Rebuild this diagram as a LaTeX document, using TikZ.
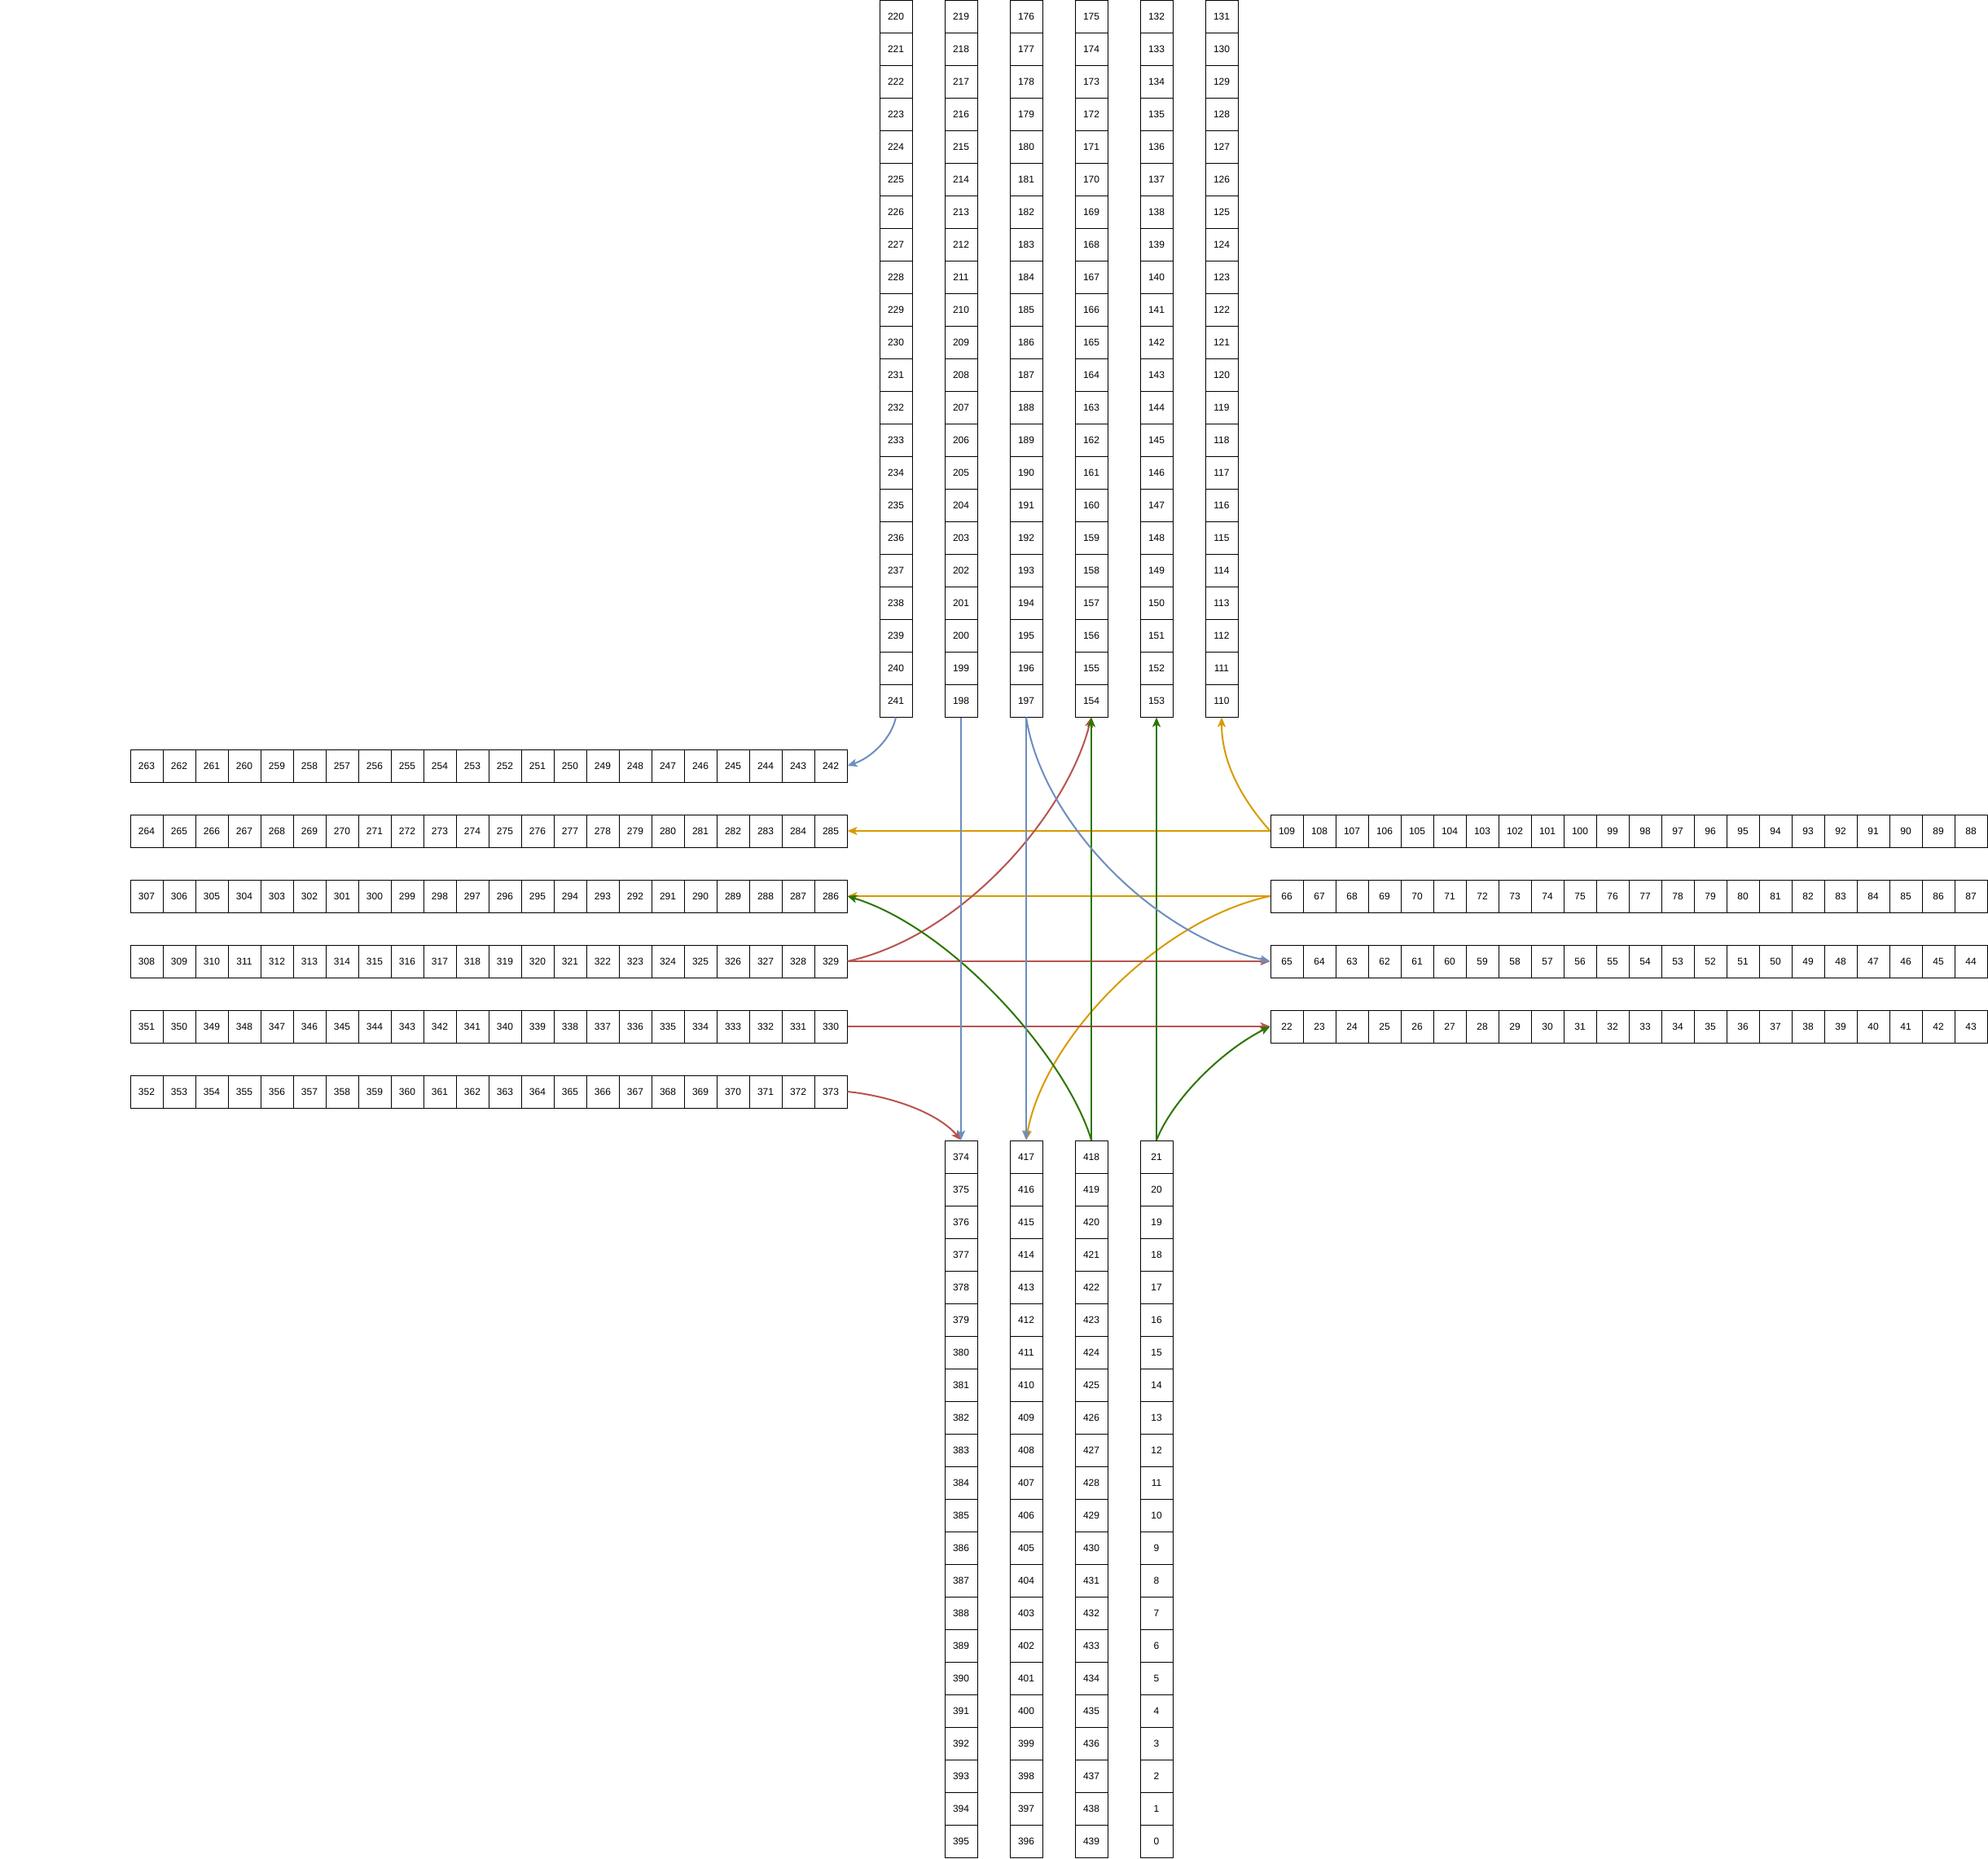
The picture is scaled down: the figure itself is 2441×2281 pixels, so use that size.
\documentclass[tikz,border=0pt]{standalone}
\usepackage{fontspec}
\setmainfont{Liberation Sans}
\usetikzlibrary{arrows.meta}
\definecolor{eblue}{HTML}{6C8EBF}
\definecolor{ered}{HTML}{B85450}
\definecolor{egreen}{HTML}{2D7600}
\definecolor{eorange}{HTML}{D79B00}
\begin{document}
\begin{tikzpicture}[x=1pt,y=-1pt,
  cell/.style={draw=black, line width=1pt, minimum width=40pt, minimum height=40pt, inner sep=0pt, font=\fontsize{12}{14}\selectfont},
  link/.style={line width=2pt, -{Stealth[length=12pt,width=10pt,inset=3pt]}},
]
\useasboundingbox (0,0) rectangle (2441,2281);
\foreach \x/\y/\dx/\dy/\s/\d in {
  1100/20/0/40/220/1, 1180/20/0/40/219/-1, 1260/20/0/40/176/1,
  1340/20/0/40/175/-1, 1420/20/0/40/132/1, 1500/20/0/40/131/-1,
  180/940/40/0/263/-1, 180/1020/40/0/264/1, 180/1100/40/0/307/-1,
  180/1180/40/0/308/1, 180/1260/40/0/351/-1, 180/1340/40/0/352/1,
  1580/1020/40/0/109/-1, 1580/1100/40/0/66/1, 1580/1180/40/0/65/-1, 1580/1260/40/0/22/1,
  1180/1420/0/40/374/1, 1260/1420/0/40/417/-1, 1340/1420/0/40/418/1, 1420/1420/0/40/21/-1}{
  \foreach \i in {0,...,21}{
    \pgfmathtruncatemacro{\n}{\s+\d*\i}
    \node[cell] (c\n) at (\x+\dx*\i, \y+\dy*\i) {\n};
  }
}
% orange
\draw[link, eorange] (c109.west) .. controls +(-40,-45) and +(0,50) .. (c110.south);
\draw[link, eorange] (c109.west) -- (c285.east);
\draw[link, eorange] (c66.west) -- (c286.east);
\draw[link, eorange] (c66.west) .. controls +(-140,30) and +(20,-120) .. (c417.north);
% red
\draw[link, ered] (c329.east) .. controls +(140,-30) and +(-30,120) .. (c154.south);
\draw[link, ered] (c329.east) -- (c65.west);
\draw[link, ered] (c330.east) -- (c22.west);
\draw[link, ered] (c373.east) .. controls +(50,5) and +(-30,-35) .. (c374.north);
% green
\draw[link, egreen] (c418.north) -- (c154.south);
\draw[link, egreen] (c418.north) .. controls +(-30,-100) and +(130,40) .. (c286.east);
\draw[link, egreen] (c21.north) -- (c153.south);
\draw[link, egreen] (c21.north) .. controls +(20,-50) and +(-60,30) .. (c22.west);
% blue
\draw[link, eblue] (c241.south) .. controls +(-5,25) and +(30,-10) .. (c242.east);
\draw[link, eblue] (c198.south) -- (c374.north);
\draw[link, eblue] (c197.south) -- (c417.north);
\draw[link, eblue] (c197.south) .. controls +(20,130) and +(-140,-30) .. (c65.west);
\end{tikzpicture}
\end{document}
